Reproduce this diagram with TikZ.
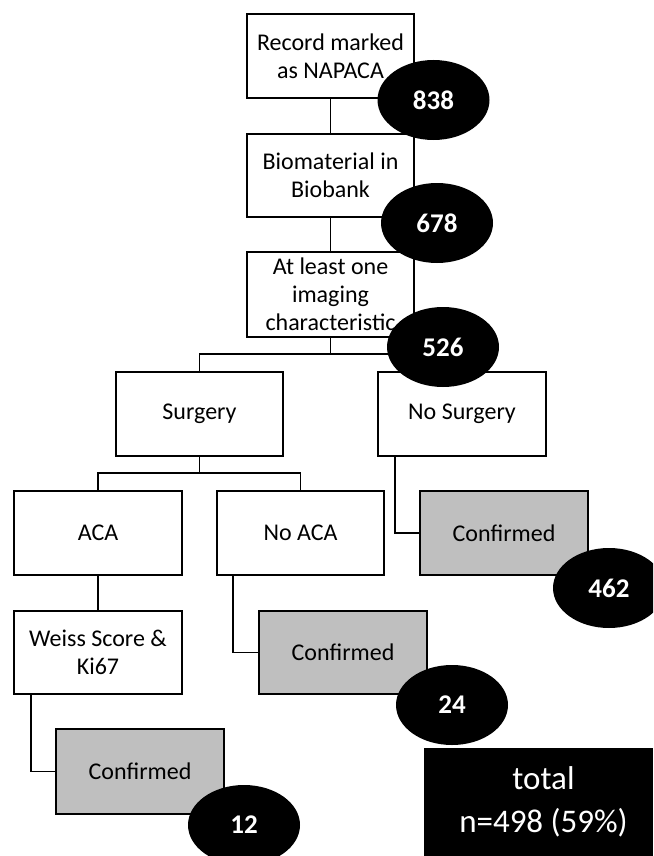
\documentclass[tikz,border=0pt]{standalone}
\usepackage{fontspec}
\setmainfont{Carlito}
\usetikzlibrary{shapes.geometric}
\definecolor{boxgray}{RGB}{191,191,191}
\tikzset{
  stage/.style={draw=black, line width=1.5pt, rectangle, align=center,
    minimum width=167pt, minimum height=84pt, inner sep=0pt, outer sep=0pt,
    font=\fontsize{24}{28}\selectfont},
  confirmed/.style={stage, fill=boxgray},
  count/.style={ellipse, fill=black, text=white, minimum width=112pt,
    minimum height=80pt, inner sep=0pt,
    font=\bfseries\fontsize{27}{32}\selectfont},
  link/.style={draw=black, line width=1.6pt}
}
\begin{document}
\begin{tikzpicture}[x=1pt, y=-1pt]
  \useasboundingbox (0,0) rectangle (653,856);
  \clip (0,0) rectangle (653,856);

  % main stages
  \node[stage] (rec)   at (330.5, 56)    {Record marked\\as NAPACA};
  \node[stage, minimum height=83pt] (bio) at (330.5, 175.5) {Biomaterial in\\Biobank};
  \node[stage, minimum height=85pt] (img) at (330.5, 294.5) {At least one\\imaging\\characteristic};
  \node[stage] (surg)  at (199.5, 414)   {Surgery};
  \node[stage, minimum width=168pt] (nosurg) at (462, 414) {No Surgery};
  \node[stage, minimum width=168pt] (aca)   at (98, 533)    {ACA};
  \node[stage] (noaca) at (300.5, 533)   {No ACA};
  \node[confirmed, minimum width=168pt] (conf1) at (504, 533) {Confirmed};
  \node[stage, minimum width=168pt, minimum height=83pt] (weiss) at (98, 652.5) {Weiss Score \&\\Ki67};
  \node[confirmed, minimum width=168pt, minimum height=83pt] (conf2) at (343, 652.5) {Confirmed};
  \node[confirmed, minimum width=168pt, minimum height=85pt] (conf3) at (140, 771.5) {Confirmed};

  % branching points
  \coordinate (split1) at (330.5, 354);
  \coordinate (split2) at (199.5, 473);

  % connectors
  \draw[link] (rec.south) -- (bio.north);
  \draw[link] (bio.south) -- (img.north);
  \draw[link] (img.south) -- (split1);
  \draw[link] (surg.north) |- (split1) -| (nosurg.north);
  \draw[link] (surg.south) -- (split2);
  \draw[link] (aca.north) |- (split2) -| (noaca.north);
  \draw[link] (aca.south) -- (weiss.north);
  \draw[link] ([xshift=-67pt]nosurg.south) |- (conf1.west);
  \draw[link] ([xshift=-67.5pt]noaca.south) |- (conf2.west);
  \draw[link] ([xshift=-67pt]weiss.south) |- (conf3.west);

  % counts
  \node[count] (n838) at (433.5, 100) {838};
  \node[count] (n678) at (437, 223)   {678};
  \node[count] (n526) at (443, 347)   {526};
  \node[count] (n462) at (609, 588)   {462};
  \node[count] (n24)  at (452, 705)   {24};
  \node[count] (n12)  at (244, 825)   {12};

  % overall total
  \node[fill=black, text=white, minimum width=229pt, minimum height=108pt,
        inner sep=0pt, align=center, font=\fontsize{33}{42}\selectfont]
        (total) at (538.5, 802) {\hspace*{10pt}total\\[1pt]\hspace*{10pt}n=498 (59\%)};
\end{tikzpicture}
\end{document}
